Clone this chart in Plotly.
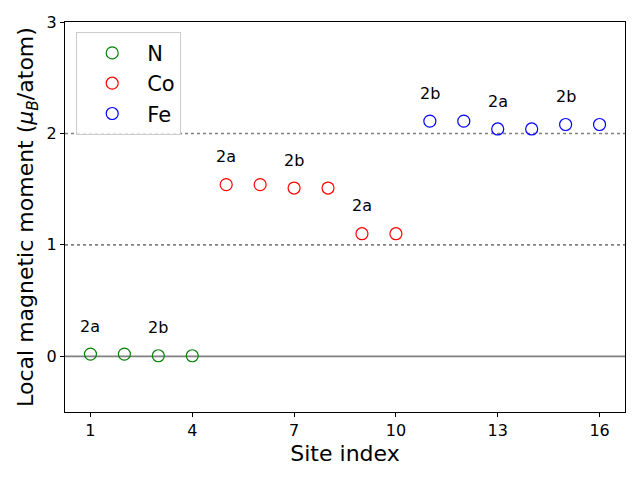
import plotly.graph_objects as go

sites_N = [1, 2, 3, 4]
mom_N = [0.02, 0.02, 0.005, 0.005]
sites_Co = [5, 6, 7, 8, 9, 10]
mom_Co = [1.54, 1.54, 1.51, 1.51, 1.10, 1.10]
sites_Fe = [11, 12, 13, 14, 15, 16]
mom_Fe = [2.11, 2.11, 2.04, 2.04, 2.08, 2.08]

label_sites = [1, 3, 5, 7, 9, 11, 13, 15]
label_texts = ["2a", "2b", "2a", "2b", "2a", "2b", "2a", "2b"]
label_offset = 0.25

ref_levels = [0, 1, 2]
x_ticks = [1, 4, 7, 10, 13, 16]
y_ticks = [0, 1, 2, 3]

FONT = "DejaVu Sans"

fig = go.Figure()
for name, xs, ys, col in [("N", sites_N, mom_N, "green"),
                          ("Co", sites_Co, mom_Co, "red"),
                          ("Fe", sites_Fe, mom_Fe, "blue")]:
    fig.add_trace(go.Scatter(x=xs, y=ys, mode="markers", name=name,
                             marker=dict(symbol="circle-open", size=12, color=col,
                                         line=dict(width=1.2, color=col))))

all_x = sites_N + sites_Co + sites_Fe
all_y = mom_N + mom_Co + mom_Fe
lookup = dict(zip(all_x, all_y))
for s, t in zip(label_sites, label_texts):
    fig.add_annotation(x=s, y=lookup[s] + label_offset, text=t, showarrow=False,
                       font=dict(family=FONT, size=16, color="black"))

for lv in ref_levels:
    fig.add_shape(type="line", xref="paper", x0=0, x1=1, yref="y", y0=lv, y1=lv,
                  line=dict(color="gray", width=1.8 if lv == 0 else 1.6,
                            dash="solid" if lv == 0 else "dot"),
                  layer="below")

fig.update_layout(
    width=640, height=480,
    margin=dict(l=65, r=15, t=22, b=68),
    paper_bgcolor="white", plot_bgcolor="white",
    font=dict(family=FONT, color="black"),
    showlegend=True,
    legend=dict(x=0.02, y=0.975, xanchor="left", yanchor="top",
                font=dict(family=FONT, size=21),
                bgcolor="rgba(255,255,255,0.8)", bordercolor="#cccccc", borderwidth=1,
                itemwidth=60, tracegroupgap=0),
    xaxis=dict(range=[0.25, 16.75], tickvals=x_ticks, ticks="outside", ticklen=4,
               tickcolor="black", showline=True, linecolor="black", linewidth=1,
               mirror=True, showgrid=False, zeroline=False,
               tickfont=dict(size=16),
               title=dict(text="Site index", font=dict(size=22), standoff=6)),
    yaxis=dict(range=[-0.5, 3], tickvals=y_ticks, ticks="outside", ticklen=4,
               tickcolor="black", showline=True, linecolor="black", linewidth=1,
               mirror=True, showgrid=False, zeroline=False,
               tickfont=dict(size=16),
               title=dict(text="Local magnetic moment (<i>μ</i><sub><i>B</i></sub>/atom)",
                          font=dict(size=22), standoff=6)),
)

fig.write_html("out.html")
